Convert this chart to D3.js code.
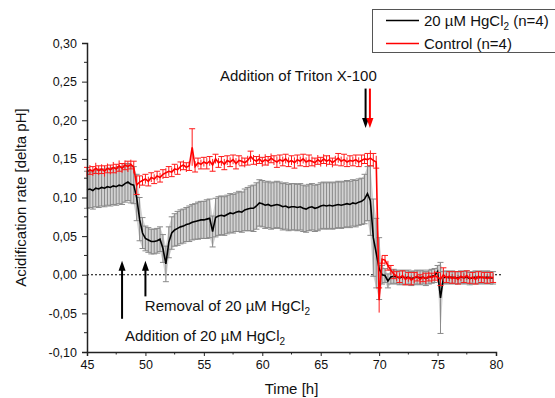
<!DOCTYPE html>
<html>
<head>
<meta charset="utf-8">
<script src="https://cdn.jsdelivr.net/npm/d3@7"></script>
<style>
  body { margin: 0; background: #fff; }
  svg { display: block; font-family: "Liberation Sans", Arial, sans-serif; }
</style>
</head>
<body>
<div id="chart"></div>
<script>
// sampling times [h]
var times = [
  45.00, 45.25, 45.50, 45.75, 46.00, 46.25, 46.50, 46.75, 47.00, 47.25,
  47.50, 47.75, 48.00, 48.25, 48.50, 48.75, 49.00, 49.25, 49.50, 49.75,
  50.00, 50.25, 50.50, 50.75, 51.00, 51.25, 51.50, 51.75, 52.00, 52.25,
  52.50, 52.75, 53.00, 53.25, 53.50, 53.75, 54.00, 54.25, 54.50, 54.75,
  55.00, 55.25, 55.50, 55.75, 56.00, 56.25, 56.50, 56.75, 57.00, 57.25,
  57.50, 57.75, 58.00, 58.25, 58.50, 58.75, 59.00, 59.25, 59.50, 59.75,
  60.00, 60.25, 60.50, 60.75, 61.00, 61.25, 61.50, 61.75, 62.00, 62.25,
  62.50, 62.75, 63.00, 63.25, 63.50, 63.75, 64.00, 64.25, 64.50, 64.75,
  65.00, 65.25, 65.50, 65.75, 66.00, 66.25, 66.50, 66.75, 67.00, 67.25,
  67.50, 67.75, 68.00, 68.25, 68.50, 68.75, 69.00, 69.25, 69.50, 69.75,
  70.00, 70.25, 70.50, 70.75, 71.00, 71.25, 71.50, 71.75, 72.00, 72.25,
  72.50, 72.75, 73.00, 73.25, 73.50, 73.75, 74.00, 74.25, 74.50, 74.75,
  75.00, 75.25, 75.50, 75.75, 76.00, 76.25, 76.50, 76.75, 77.00, 77.25,
  77.50, 77.75, 78.00, 78.25, 78.50, 78.75, 79.00, 79.25, 79.50, 79.75
];

// 20 uM HgCl2 (n=4): mean and SD
var hgMean = [
  0.110, 0.111, 0.109, 0.112, 0.111, 0.113, 0.112, 0.114, 0.113, 0.115,
  0.114, 0.116, 0.115, 0.118, 0.120, 0.117, 0.116, 0.100, 0.072, 0.054,
  0.047, 0.045, 0.043, 0.043, 0.044, 0.046, 0.034, 0.014, 0.042, 0.054,
  0.058, 0.060, 0.062, 0.063, 0.065, 0.066, 0.068, 0.069, 0.070, 0.071,
  0.071, 0.072, 0.073, 0.056, 0.074, 0.076, 0.077, 0.076, 0.078, 0.080,
  0.079, 0.081, 0.082, 0.081, 0.084, 0.085, 0.086, 0.086, 0.089, 0.093,
  0.092, 0.090, 0.091, 0.089, 0.090, 0.091, 0.090, 0.088, 0.089, 0.087,
  0.088, 0.088, 0.087, 0.088, 0.086, 0.085, 0.087, 0.088, 0.086, 0.087,
  0.089, 0.090, 0.089, 0.090, 0.089, 0.090, 0.091, 0.090, 0.091, 0.092,
  0.091, 0.093, 0.092, 0.094, 0.095, 0.098, 0.105, 0.096, 0.048, 0.028,
  0.008, 0.000, -0.001, -0.008, -0.003, -0.002, -0.003, -0.004, -0.003, -0.004,
  -0.003, -0.005, -0.004, -0.003, -0.004, -0.003, -0.005, -0.003, -0.002, -0.001,
  0.004, -0.030, -0.004, -0.003, -0.004, -0.003, -0.004, -0.004, -0.003, -0.004,
  -0.003, -0.005, -0.004, -0.003, -0.004, -0.003, -0.004, -0.003, -0.004, -0.004
];
var hgSd = [
  0.024, 0.024, 0.024, 0.024, 0.024, 0.024, 0.024, 0.024, 0.024, 0.024,
  0.024, 0.024, 0.024, 0.024, 0.024, 0.024, 0.024, 0.030, 0.028, 0.020,
  0.016, 0.016, 0.016, 0.016, 0.016, 0.016, 0.018, 0.023, 0.020, 0.021,
  0.021, 0.022, 0.022, 0.022, 0.022, 0.023, 0.023, 0.023, 0.024, 0.024,
  0.024, 0.025, 0.025, 0.020, 0.025, 0.025, 0.025, 0.025, 0.025, 0.025,
  0.025, 0.025, 0.026, 0.026, 0.027, 0.028, 0.029, 0.030, 0.030, 0.030,
  0.030, 0.030, 0.030, 0.030, 0.030, 0.030, 0.030, 0.030, 0.030, 0.030,
  0.030, 0.030, 0.030, 0.030, 0.030, 0.030, 0.030, 0.030, 0.030, 0.030,
  0.030, 0.030, 0.030, 0.030, 0.030, 0.030, 0.030, 0.030, 0.030, 0.030,
  0.030, 0.030, 0.030, 0.030, 0.030, 0.032, 0.035, 0.045, 0.050, 0.045,
  0.040, 0.012, 0.009, 0.009, 0.009, 0.009, 0.009, 0.009, 0.009, 0.009,
  0.009, 0.009, 0.009, 0.009, 0.009, 0.009, 0.009, 0.009, 0.009, 0.009,
  0.008, 0.046, 0.008, 0.008, 0.008, 0.008, 0.008, 0.008, 0.008, 0.008,
  0.008, 0.008, 0.008, 0.008, 0.008, 0.008, 0.008, 0.008, 0.008, 0.008
];

// Control (n=4): mean and SD
var ctlMean = [
  0.133, 0.136, 0.134, 0.138, 0.135, 0.137, 0.134, 0.138, 0.136, 0.139,
  0.137, 0.141, 0.138, 0.142, 0.140, 0.143, 0.139, 0.116, 0.120, 0.122,
  0.124, 0.121, 0.126, 0.124, 0.128, 0.126, 0.130, 0.132, 0.134, 0.133,
  0.137, 0.136, 0.140, 0.142, 0.139, 0.141, 0.165, 0.140, 0.145, 0.143,
  0.146, 0.144, 0.147, 0.142, 0.150, 0.145, 0.147, 0.143, 0.148, 0.146,
  0.149, 0.144, 0.148, 0.147, 0.145, 0.148, 0.153, 0.149, 0.147, 0.150,
  0.146, 0.149, 0.147, 0.151, 0.148, 0.146, 0.149, 0.147, 0.150, 0.146,
  0.148, 0.145, 0.149, 0.147, 0.150, 0.146, 0.148, 0.147, 0.145, 0.149,
  0.146, 0.150, 0.147, 0.149, 0.145, 0.148, 0.151, 0.147, 0.149, 0.146,
  0.148, 0.147, 0.149, 0.146, 0.148, 0.150, 0.149, 0.151, 0.148, 0.146,
  -0.033, 0.020, 0.019, 0.012, 0.006, 0.001, -0.002, -0.004, -0.001, -0.006,
  -0.003, -0.007, -0.004, -0.002, -0.006, -0.003, -0.005, -0.002, -0.004, -0.001,
  -0.003, -0.006, 0.000, -0.004, -0.002, -0.005, -0.003, -0.006, -0.002, -0.004,
  -0.001, -0.005, -0.003, -0.006, -0.002, -0.004, -0.003, -0.005, -0.003, -0.004
];
var ctlSd = [
  0.006, 0.006, 0.006, 0.007, 0.006, 0.006, 0.007, 0.006, 0.006, 0.007,
  0.006, 0.007, 0.006, 0.006, 0.007, 0.006, 0.008, 0.012, 0.008, 0.006,
  0.006, 0.006, 0.006, 0.006, 0.006, 0.006, 0.006, 0.006, 0.006, 0.006,
  0.006, 0.006, 0.006, 0.006, 0.006, 0.006, 0.024, 0.007, 0.006, 0.006,
  0.006, 0.007, 0.006, 0.008, 0.006, 0.006, 0.006, 0.007, 0.006, 0.006,
  0.006, 0.007, 0.006, 0.006, 0.006, 0.006, 0.007, 0.006, 0.006, 0.006,
  0.006, 0.007, 0.006, 0.006, 0.006, 0.007, 0.006, 0.006, 0.006, 0.006,
  0.006, 0.007, 0.006, 0.006, 0.006, 0.006, 0.007, 0.006, 0.006, 0.006,
  0.006, 0.006, 0.007, 0.006, 0.006, 0.006, 0.006, 0.006, 0.007, 0.006,
  0.006, 0.006, 0.006, 0.006, 0.007, 0.006, 0.008, 0.010, 0.009, 0.008,
  0.016, 0.005, 0.006, 0.006, 0.006, 0.006, 0.006, 0.006, 0.006, 0.007,
  0.006, 0.006, 0.007, 0.006, 0.006, 0.006, 0.007, 0.006, 0.006, 0.006,
  0.006, 0.008, 0.009, 0.006, 0.006, 0.006, 0.007, 0.006, 0.006, 0.006,
  0.006, 0.006, 0.006, 0.006, 0.006, 0.006, 0.006, 0.006, 0.006, 0.006
];

var xTicks = [45, 50, 55, 60, 65, 70, 75, 80];
var yTicks = [-0.10, -0.05, 0.00, 0.05, 0.10, 0.15, 0.20, 0.25, 0.30];

var width = 555, height = 398;

var svg = d3.select('#chart').append('svg')
  .attr('width', width).attr('height', height);

svg.append('rect').attr('width', width).attr('height', height).attr('fill', '#fff');

var x = d3.scaleLinear().domain([45, 80]).range([87, 496]);
var y = d3.scaleLinear().domain([-0.1, 0.3]).range([352, 43]);

function fmt(v){
  var s = Math.abs(v) < 1e-9 ? '0.00' : v.toFixed(2);
  return s.replace('.', ',');
}

var hg = times.map(function(t, i){ return {t: t, m: hgMean[i], s: hgSd[i]}; });
var ctl = times.map(function(t, i){ return {t: t, m: ctlMean[i], s: ctlSd[i]}; });

// zero line
svg.append('line')
  .attr('x1', x(45)).attr('x2', x(80) + 6)
  .attr('y1', y(0)).attr('y2', y(0))
  .attr('stroke', '#000').attr('stroke-width', 1)
  .attr('stroke-dasharray', '2,2');

// HgCl2 band + error bars
svg.append('path')
  .datum(hg)
  .attr('fill', '#d2d2d2')
  .attr('d', d3.area()
    .x(function(d){ return x(d.t); })
    .y0(function(d){ return y(d.m - d.s); })
    .y1(function(d){ return y(d.m + d.s); }));

var hgBars = svg.append('g').attr('stroke', '#8a8a8a').attr('stroke-width', 1);
hgBars.selectAll('line.v').data(hg).enter().append('line')
  .attr('class', 'v')
  .attr('x1', function(d){ return x(d.t); }).attr('x2', function(d){ return x(d.t); })
  .attr('y1', function(d){ return y(d.m - d.s); })
  .attr('y2', function(d){ return y(d.m + d.s); });
hgBars.selectAll('line.top').data(hg).enter().append('line')
  .attr('class', 'top')
  .attr('x1', function(d){ return x(d.t) - 3; }).attr('x2', function(d){ return x(d.t) + 3; })
  .attr('y1', function(d){ return y(d.m + d.s); })
  .attr('y2', function(d){ return y(d.m + d.s); });
hgBars.selectAll('line.bot').data(hg).enter().append('line')
  .attr('class', 'bot')
  .attr('x1', function(d){ return x(d.t) - 3; }).attr('x2', function(d){ return x(d.t) + 3; })
  .attr('y1', function(d){ return y(d.m - d.s); })
  .attr('y2', function(d){ return y(d.m - d.s); });

var line = d3.line()
  .x(function(d){ return x(d.t); })
  .y(function(d){ return y(d.m); });

svg.append('path').datum(hg)
  .attr('fill', 'none').attr('stroke', '#000').attr('stroke-width', 1.6)
  .attr('d', line);

// Control error bars
var ctlBars = svg.append('g').attr('stroke', '#ff1a1a').attr('stroke-width', 1);
ctlBars.selectAll('line.v').data(ctl).enter().append('line')
  .attr('class', 'v')
  .attr('x1', function(d){ return x(d.t); }).attr('x2', function(d){ return x(d.t); })
  .attr('y1', function(d){ return y(d.m - d.s); })
  .attr('y2', function(d){ return y(d.m + d.s); });
ctlBars.selectAll('line.top').data(ctl.filter(function(d, i){ return i % 2 === 0; })).enter().append('line')
  .attr('class', 'top')
  .attr('x1', function(d){ return x(d.t) - 3; }).attr('x2', function(d){ return x(d.t) + 3; })
  .attr('y1', function(d){ return y(d.m + d.s); })
  .attr('y2', function(d){ return y(d.m + d.s); });
ctlBars.selectAll('line.bot').data(ctl.filter(function(d, i){ return i % 2 === 1; })).enter().append('line')
  .attr('class', 'bot')
  .attr('x1', function(d){ return x(d.t) - 3; }).attr('x2', function(d){ return x(d.t) + 3; })
  .attr('y1', function(d){ return y(d.m - d.s); })
  .attr('y2', function(d){ return y(d.m - d.s); });

svg.append('path').datum(ctl)
  .attr('fill', 'none').attr('stroke', '#ff0000').attr('stroke-width', 1.6)
  .attr('d', line);

// axes
var xAxis = svg.append('g').attr('transform', 'translate(0,' + y(-0.1) + ')');
xAxis.call(d3.axisBottom(x).tickValues(xTicks).tickSize(4).tickPadding(4).tickFormat(d3.format('d')));
xAxis.append('g').selectAll('line').data([47.5, 52.5, 57.5, 62.5, 67.5, 72.5, 77.5]).enter().append('line')
  .attr('x1', function(d){ return x(d); }).attr('x2', function(d){ return x(d); })
  .attr('y1', 0).attr('y2', 2.5).attr('stroke', '#222');

var yAxis = svg.append('g').attr('transform', 'translate(' + x(45) + ',0)');
yAxis.call(d3.axisLeft(y).tickValues(yTicks).tickSize(5).tickPadding(5).tickFormat(fmt));
yAxis.append('g').selectAll('line').data([-0.075, -0.025, 0.025, 0.075, 0.125, 0.175, 0.225, 0.275]).enter().append('line')
  .attr('x1', 0).attr('x2', -3)
  .attr('y1', function(d){ return y(d); }).attr('y2', function(d){ return y(d); })
  .attr('stroke', '#222');

svg.selectAll('.domain').attr('stroke', '#222').attr('stroke-width', 1.5);
svg.selectAll('.tick line').attr('stroke', '#222');
svg.selectAll('.tick text').attr('font-size', 12.5).attr('fill', '#111')
  .attr('font-family', '"Liberation Sans", Arial, sans-serif');

// axis titles
svg.append('text')
  .attr('transform', 'translate(26,' + ((y(0.3) + y(-0.1)) / 2) + ') rotate(-90)')
  .attr('text-anchor', 'middle').attr('font-size', 15).attr('fill', '#111')
  .text('Acidification rate [delta pH]');
svg.append('text')
  .attr('x', (x(45) + x(80)) / 2).attr('y', 394)
  .attr('text-anchor', 'middle').attr('font-size', 15).attr('fill', '#111')
  .text('Time [h]');

// arrows
function arrow(t, v1, v2, color){
  var x0 = x(t), ya = y(v1), yb = y(v2);
  var dir = yb > ya ? 1 : -1;
  svg.append('line')
    .attr('x1', x0).attr('x2', x0)
    .attr('y1', ya).attr('y2', yb - dir * 8)
    .attr('stroke', color).attr('stroke-width', 2);
  svg.append('path')
    .attr('d', 'M' + (x0 - 3.5) + ',' + (yb - dir * 10) + 'L' + (x0 + 3.5) + ',' + (yb - dir * 10) + 'L' + x0 + ',' + yb + 'Z')
    .attr('fill', color);
}
arrow(68.84, 0.241, 0.190, '#000');
arrow(69.21, 0.241, 0.190, '#ff0000');
arrow(48.0, -0.057, 0.018, '#000');
arrow(50.0, -0.028, 0.018, '#000');

function label(tx, ty, parts){
  var t = svg.append('text').attr('x', x(tx)).attr('y', y(ty))
    .attr('font-size', 15).attr('fill', '#111');
  parts.forEach(function(p){
    var s = t.append('tspan').text(p[0]);
    if (p[1]) s.attr('font-size', 10).attr('dy', 4);
  });
}
label(56.38, 0.2505, [['Addition of Triton X-100']]);
label(49.95, -0.047, [['Removal of 20 µM HgCl'], ['2', true]]);
label(48.25, -0.0855, [['Addition of 20 µM HgCl'], ['2', true]]);

// legend
var lg = svg.append('g');
lg.append('rect').attr('x', 372.5).attr('y', 9.5).attr('width', 200).attr('height', 43)
  .attr('fill', '#fff').attr('stroke', '#555').attr('stroke-width', 1);
lg.append('line').attr('x1', 386).attr('x2', 419).attr('y1', 20.5).attr('y2', 20.5)
  .attr('stroke', '#000').attr('stroke-width', 1.6);
lg.append('line').attr('x1', 386).attr('x2', 419).attr('y1', 43.5).attr('y2', 43.5)
  .attr('stroke', '#ff0000').attr('stroke-width', 1.6);
var l1 = lg.append('text').attr('x', 424).attr('y', 26).attr('font-size', 15).attr('fill', '#111');
l1.append('tspan').text('20 µM HgCl');
l1.append('tspan').attr('font-size', 10).attr('dy', 4).text('2');
l1.append('tspan').attr('dy', -4).text(' (n=4)');
lg.append('text').attr('x', 424).attr('y', 49).attr('font-size', 15).attr('fill', '#111')
  .text('Control (n=4)');
</script>
</body>
</html>
